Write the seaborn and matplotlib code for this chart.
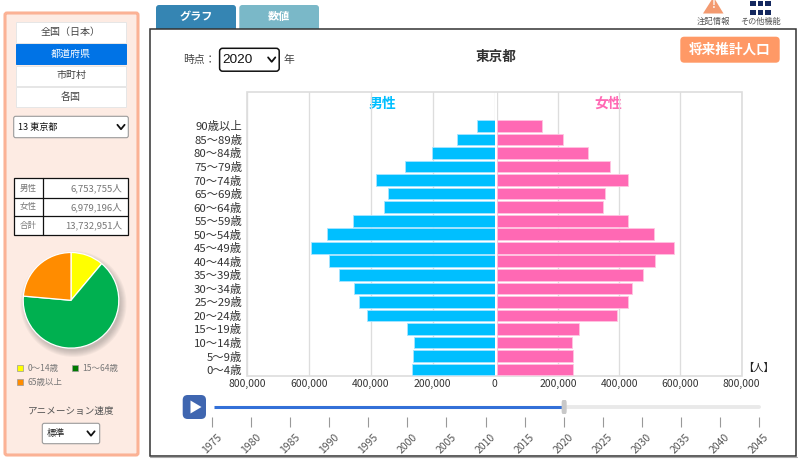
import matplotlib
matplotlib.use("Agg")
import matplotlib.pyplot as plt
import pandas as pd
import seaborn as sns
from matplotlib.patches import FancyBboxPatch, Rectangle, Circle, Polygon

W, H = 800, 459

ages = ["90歳以上", "85〜89歳", "80〜84歳", "75〜79歳", "70〜74歳", "65〜69歳", "60〜64歳",
        "55〜59歳", "50〜54歳", "45〜49歳", "40〜44歳", "35〜39歳", "30〜34歳", "25〜29歳",
        "20〜24歳", "15〜19歳", "10〜14歳", "5〜9歳", "0〜4歳"]
male = [55600, 122100, 202900, 289200, 385100, 345100, 356000, 458200, 541200, 593900,
        535700, 504700, 456200, 438800, 414200, 281700, 259100, 263300, 265600]
female = [148400, 216400, 298700, 368700, 429300, 354800, 346000, 428300, 513500, 578300,
          515800, 478900, 441300, 428300, 392700, 270500, 245600, 251100, 250100]
x_ticks = [0, 200000, 400000, 600000, 800000]
pie_labels = ["0〜14歳", "15〜64歳", "65歳以上"]
pie_values = [11.1, 65.3, 23.6]
years = list(range(1975, 2050, 5))
current_year = 2020
summary_rows = [("男性", "6,753,755人"), ("女性", "6,979,196人"), ("合計", "13,732,951人")]
menu_items = ["全国（日本）", "都道府県", "市町村", "各国"]

sns.set_theme(style="white")
plt.rcParams["font.family"] = ["Noto Sans CJK JP", "DejaVu Sans"]
plt.rcParams["axes.unicode_minus"] = False

fig = plt.figure(figsize=(8, 4.59), dpi=100, facecolor="white")


def axes_px(x0, y0, x1, y1, **kw):
    return fig.add_axes([x0 / W, 1 - y1 / H, (x1 - x0) / W, (y1 - y0) / H], **kw)


ui = axes_px(0, 0, W, H, zorder=0)
ui.set_xlim(0, W)
ui.set_ylim(H, 0)
ui.axis("off")


def box(x0, y0, x1, y1, fc="white", ec="none", lw=0.7, r=0.0, z=1):
    if r > 0:
        p = FancyBboxPatch((x0 + r, y0 + r), x1 - x0 - 2 * r, y1 - y0 - 2 * r,
                           boxstyle=f"round,pad={r},rounding_size={r}",
                           fc=fc, ec=ec, lw=lw, zorder=z)
    else:
        p = Rectangle((x0, y0), x1 - x0, y1 - y0, fc=fc, ec=ec, lw=lw, zorder=z)
    ui.add_patch(p)


def label(x, y, s, size=7.0, color="#444444", ha="center", weight="normal", z=5, family=None):
    kw = {"family": family} if family else {}
    ui.text(x, y, s, fontsize=size, color=color, ha=ha, va="center",
            fontweight=weight, zorder=z, **kw)


def chevron(x, y, w=3.6, h=2.2, lw=1.3):
    ui.plot([x - w, x, x + w], [y - h, y + h, y - h], color="#111111", lw=lw,
            solid_capstyle="round", solid_joinstyle="round", zorder=5)


# Left panel
box(5, 13, 138, 455, fc="#FDEBE3", ec="#FBB295", lw=2.2, r=2)
menu_y = [(22.3, 43), (44, 64.3), (65.7, 85.7), (87, 107.3)]
for i, (item, (y0, y1)) in enumerate(zip(menu_items, menu_y)):
    selected = i == 1
    box(15.7, y0, 126, y1, fc="#0073E6" if selected else "white",
        ec="#0073E6" if selected else "#E6E6E6")
    label(71, (y0 + y1) / 2 - 0.3, item, size=7.2, color="white" if selected else "#444444")

box(13.7, 116.3, 128.3, 137.7, fc="white", ec="#9A9A9A", lw=0.8, r=2)
label(17.7, 127, "13 東京都", size=6.6, color="#111111", ha="left")
chevron(121, 127)

# Summary table
row_y = [178.3, 197.7, 216.3, 235.3]
box(13.7, 178.3, 128.3, 235.3, fc="white", ec="#111111", lw=0.9)
for y in row_y[1:3]:
    ui.plot([13.7, 128.3], [y, y], color="#111111", lw=0.9, zorder=2)
ui.plot([42.7, 42.7], [178.3, 235.3], color="#111111", lw=0.9, zorder=2)
for i, (name, value) in enumerate(summary_rows):
    yc = (row_y[i] + row_y[i + 1]) / 2
    label(28, yc, name, size=6.1, color="#777777")
    label(122.7, yc, value, size=6.9, color="#777777", ha="right")

# Pie shadow
for k in range(7):
    ui.add_patch(Circle((73.5, 304), 47.0 + k, fc="#555555", ec="none", alpha=0.05, zorder=1))

# Legend under the pie
legend_pos = [(20.3, 368, "#FFFF00"), (74.7, 368, "#007A00"), (20.3, 382, "#FF8C00")]
for (x, y, c), name in zip(legend_pos, pie_labels):
    box(x - 3, y - 3, x + 3, y + 3, fc=c, ec="#999999", lw=0.5)
    label(x + 7.6, y, name, size=6.1, color="#777777", ha="left")

label(71, 411.7, "アニメーション速度", size=6.9, color="#555555")
box(42.3, 423.3, 99.7, 443.7, fc="white", ec="#9A9A9A", lw=0.8, r=2)
label(46.5, 433.5, "標準", size=6.6, color="#222222", ha="left")
chevron(91, 433.5)

# Tabs
box(156, 5, 236, 32, fc="#3585B3", r=3)
box(239.3, 5, 319, 32, fc="#7AB8C8", r=3)
label(196, 16.5, "グラフ", size=8, color="white", weight="bold")
label(279, 16.5, "数値", size=8, color="white", weight="bold")

# Top right icons
ui.add_patch(Polygon([(713.5, -3), (723.5, 13.5), (703, 13.5)], closed=True, fc="#F39A70", ec="none", zorder=2))
label(713.5, 5.5, "!", size=7.5, color="white", weight="bold")
label(713.5, 21.3, "注記情報", size=6.0, color="#555555")
for cx in (750, 757.5, 765):
    for cy in (1, 10):
        box(cx, cy, cx + 5.6, cy + 5.2, fc="#14285F")
label(760.7, 21.3, "その他機能", size=5.9, color="#555555")

# Main frame
box(149.8, 29.3, 796.3, 455.5, fc="white", ec="#333333", lw=1.1, z=2)
ui.plot([150, 797], [456.6, 456.6], color="#AAAAAA", lw=0.8, zorder=2)
label(182.7, 60, "時点：", size=7.8, color="#444444", ha="left")
box(219.6, 48.3, 279.2, 71.2, fc="white", ec="#111111", lw=1.1, r=3, z=3)
label(222.3, 59.6, str(current_year), size=9.7, color="#111111", ha="left", family="Liberation Sans")
chevron(271.7, 59.6)
label(289, 60, "年", size=7.8, color="#444444")
label(496.5, 57, "東京都", size=9.8, color="#333333", weight="bold")
box(680.3, 36.7, 779.7, 62.7, fc="#FF9966", r=4, z=3)
label(730, 49.3, "将来推計人口", size=9.8, color="white", weight="bold")

# Pyramid
box(247.3, 92.3, 741.9, 375.7, fc="white", ec="#DDDDDD", lw=1.2, z=3)
plot_top = 92.3
plot_bottom = 375.7
ylim = (18.45, -2.48)
df = pd.DataFrame({"age": ages, "male": male, "female": female})

ax_m = axes_px(247.3, plot_top, 494.5, plot_bottom, zorder=2)
ax_f = axes_px(496.5, plot_top, 741.7, plot_bottom, zorder=2)
for ax, col, color, edge in ((ax_m, "male", "#00BFFF", "#A8E4FF"), (ax_f, "female", "#FF69B4", "#FFC4E1")):
    ax.set_axisbelow(True)
    sns.barplot(data=df, y="age", x=col, order=ages, orient="h", ax=ax, color=color,
                saturation=1, width=0.865, edgecolor=edge, linewidth=0.6)
    ax.patch.set_visible(False)
    ax.set_ylim(*ylim)
    ax.set_xlabel("")
    ax.set_ylabel("")
    ax.set_xticks(x_ticks)
    ax.set_xticklabels([f"{v:,}" for v in x_ticks], fontsize=7.5, color="#333333")
    ax.tick_params(axis="x", length=0, pad=2.6)
    ax.grid(axis="x", color="#DDDDDD", lw=0.95)
    ax.grid(axis="y", visible=False)
    for s in ax.spines.values():
        s.set_visible(False)
ax_m.set_xlim(800000, 0)
ax_f.set_xlim(0, 800000)
ax_m.tick_params(axis="y", length=0, pad=3.8, labelsize=8.2, labelcolor="#333333")
ax_f.tick_params(axis="y", left=False, labelleft=False)
ax_f.get_xticklabels()[0].set_visible(False)

label(382.3, 103.7, "男性", size=10, color="#00BFFF", weight="bold", z=6)
label(608.3, 103.7, "女性", size=10, color="#FF69B4", weight="bold", z=6)
label(758.5, 368.3, "【人】", size=7.4, color="#222222", z=6)

# Pie
ax_p = axes_px(71 - 47.8, 300.3 - 47.8, 71 + 47.8, 300.3 + 47.8, zorder=2)
ax_p.pie(pie_values, colors=["#FFFF00", "#00B050", "#FF8C00"], startangle=90, counterclock=False,
         radius=1, wedgeprops={"edgecolor": "white", "linewidth": 0.9})
ax_p.set_xlim(-1, 1)
ax_p.set_ylim(-1, 1)
ax_p.patch.set_visible(False)

# Play button and timeline slider
box(182.7, 395, 206, 419, fc="#3F66B0", r=5, z=3)
ui.add_patch(Polygon([(190.5, 400.5), (201.5, 407), (190.5, 413.5)], closed=True, fc="white", ec="none", zorder=4))

ax_s = axes_px(212.3, 397, 758.7, 417.3, zorder=2)
ax_s.patch.set_visible(False)
ax_s.set_xlim(years[0], years[-1])
ax_s.set_ylim(0, 1)
for s in ax_s.spines.values():
    s.set_visible(False)
ax_s.plot([current_year, years[-1]], [0.5, 0.5], color="#E9E9E9", lw=2.8, solid_capstyle="round", clip_on=False)
ax_s.plot([years[0] + 0.25, current_year], [0.5, 0.5], color="#3370D8", lw=2.2, solid_capstyle="butt", clip_on=False)
ax_s.set_yticks([])
ax_s.set_xticks(years)
ax_s.set_xticklabels([str(y) for y in years], rotation=45, ha="center", va="top",
                     fontsize=7.5, color="#555555", rotation_mode="default")
ax_s.tick_params(axis="x", bottom=True, length=7.5, width=0.8, color="#999999", pad=3)

# Slider handle on top of the track
hx = axes_px(561, 400, 567.3, 414, zorder=3)
hx.axis("off")
hx.add_patch(FancyBboxPatch((0.2, 0.1), 0.6, 0.8, boxstyle="round,pad=0.1,rounding_size=0.2",
                            fc="#C8C8C8", ec="none", transform=hx.transAxes, clip_on=False))

fig.savefig("out.png", dpi=100)
